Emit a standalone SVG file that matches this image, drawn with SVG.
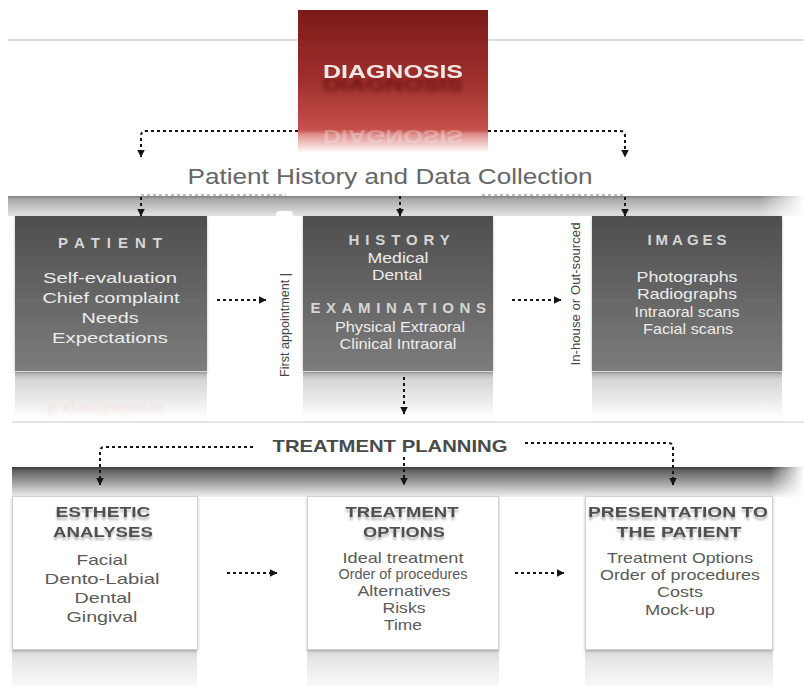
<svg xmlns="http://www.w3.org/2000/svg" width="804" height="686" viewBox="0 0 804 686">
  <style>
    text { font-family: "Liberation Sans", Arial, sans-serif; text-anchor: middle; }
    .diag { font-size: 18px; font-weight: bold; fill: #f3e6e6; }
    .sub { font-size: 22px; fill: #666; }
    .dh { font-size: 15px; font-weight: bold; fill: #d6d6d6; }
    .di { font-size: 15px; fill: #ececec; }
    .tp { font-size: 17px; font-weight: bold; fill: #4a4a4a; }
    .lh { font-size: 14px; font-weight: bold; fill: #505050; }
    .li { font-size: 15px; fill: #5a5a5a; }
    .vt { font-size: 13px; fill: #444; }
    .dot { fill: none; stroke: #151515; stroke-width: 2; stroke-dasharray: 3 3; }
    .dotl { fill: none; stroke: #a8a8a8; stroke-width: 1.5; stroke-dasharray: 3 3; }
    .dark { fill: url(#darkBox); }
    .light { fill: #fff; stroke: #d2d2d2; stroke-width: 1; }
  </style>
  <defs>
    <linearGradient id="red" x1="0" y1="0" x2="0" y2="1">
      <stop offset="0" stop-color="#7a1b19"/>
      <stop offset="0.5" stop-color="#a0302c"/>
      <stop offset="0.84" stop-color="#c7514c"/>
      <stop offset="0.87" stop-color="#df8f8b"/>
      <stop offset="1" stop-color="#ffffff"/>
    </linearGradient>
    <linearGradient id="darkBox" x1="0" y1="0" x2="0" y2="1">
      <stop offset="0" stop-color="#4e4e4e"/>
      <stop offset="1" stop-color="#7c7c7c"/>
    </linearGradient>
    <linearGradient id="reflDark" x1="0" y1="0" x2="0" y2="1">
      <stop offset="0" stop-color="#a9a9a9"/>
      <stop offset="0.15" stop-color="#d4d4d4"/>
      <stop offset="1" stop-color="#ffffff"/>
    </linearGradient>
    <linearGradient id="reflLight" x1="0" y1="0" x2="0" y2="1">
      <stop offset="0" stop-color="#d9d9d9"/>
      <stop offset="0.3" stop-color="#e8e8e8"/>
      <stop offset="1" stop-color="#f9f9f9"/>
    </linearGradient>
    <linearGradient id="band1" x1="0" y1="0" x2="0" y2="1">
      <stop offset="0" stop-color="#7e7e7e"/>
      <stop offset="0.15" stop-color="#a8a8a8"/>
      <stop offset="1" stop-color="#e4e4e4"/>
    </linearGradient>
    <linearGradient id="band2" x1="0" y1="0" x2="0" y2="1">
      <stop offset="0" stop-color="#3a3a3a"/>
      <stop offset="0.12" stop-color="#626262"/>
      <stop offset="0.55" stop-color="#a6a6a6"/>
      <stop offset="1" stop-color="#f2f2f2"/>
    </linearGradient>
    <linearGradient id="fadeR" x1="0" y1="0" x2="1" y2="0">
      <stop offset="0" stop-color="#fff" stop-opacity="0"/>
      <stop offset="1" stop-color="#fff" stop-opacity="1"/>
    </linearGradient>
    <filter id="soft2" x="-20%" y="-50%" width="140%" height="200%">
      <feGaussianBlur stdDeviation="1.6"/>
    </filter>
    <!-- blurred drop shadow under headings -->
    <filter id="tsh" x="-10%" y="-40%" width="120%" height="200%">
      <feGaussianBlur in="SourceAlpha" stdDeviation="1.2"/>
      <feOffset dy="3" result="b"/>
      <feFlood flood-color="#000" flood-opacity="0.3"/>
      <feComposite in2="b" operator="in"/>
      <feMerge><feMergeNode/><feMergeNode in="SourceGraphic"/></feMerge>
    </filter>
    <filter id="dsh" x="-10%" y="-40%" width="120%" height="260%">
      <feGaussianBlur in="SourceAlpha" stdDeviation="2.5"/>
      <feOffset dy="13" result="b"/>
      <feFlood flood-color="#4a0807" flood-opacity="0.6"/>
      <feComposite in2="b" operator="in"/>
      <feMerge><feMergeNode/><feMergeNode in="SourceGraphic"/></feMerge>
    </filter>
    <filter id="shadow" x="-10%" y="-10%" width="120%" height="130%">
      <feDropShadow dx="0" dy="1" stdDeviation="1.5" flood-color="#000" flood-opacity="0.25"/>
    </filter>
    <marker id="ah" viewBox="0 0 8 8" refX="7.5" refY="4" markerWidth="8" markerHeight="8" markerUnits="userSpaceOnUse" orient="auto">
      <path d="M0,0 L8,4 L0,8 z" fill="#151515"/>
    </marker>
  </defs>

  <rect width="804" height="686" fill="#fff"/>

  <!-- background rules and bands -->
  <line x1="8" y1="40" x2="804" y2="40" stroke="#d0d0d0" stroke-width="1.5"/>
  <rect x="8" y="196" width="796" height="20" fill="url(#band1)"/>
  <rect x="760" y="196" width="44" height="20" fill="url(#fadeR)"/>
  <rect x="276" y="211" width="17" height="8" rx="4" fill="#fff"/>
  <line x1="12" y1="422" x2="804" y2="422" stroke="#dedede" stroke-width="1.5"/>
  <rect x="12" y="467" width="792" height="30" fill="url(#band2)"/>
  <rect x="770" y="467" width="34" height="30" fill="url(#fadeR)"/>

  <!-- DIAGNOSIS -->
  <g id="diagnosis">
    <rect x="298" y="10" width="190" height="143" fill="url(#red)"/>
    <text x="393" y="78" class="diag" filter="url(#dsh)" textLength="140" lengthAdjust="spacingAndGlyphs">DIAGNOSIS</text>
    <text x="393" y="-130" class="diag" transform="scale(1,-1)" opacity="0.35" textLength="140" lengthAdjust="spacingAndGlyphs">DIAGNOSIS</text>
  </g>

  <g id="data-collection">
    <text x="390" y="184" class="sub" textLength="405" lengthAdjust="spacingAndGlyphs">Patient History and Data Collection</text>
  </g>

  <!-- PATIENT -->
  <g id="patient">
    <rect x="15" y="372" width="192" height="46" fill="url(#reflDark)"/>
    <text x="105" y="-404" class="di" transform="scale(1,-1)" style="fill:#e8b8b8" opacity="0.3" filter="url(#soft2)" textLength="116" lengthAdjust="spacingAndGlyphs">Expectations</text>
    <rect x="15" y="216" width="192" height="155" class="dark" filter="url(#shadow)"/>
    <text x="113.5" y="248" class="dh" letter-spacing="7">PATIENT</text>
    <text x="110" y="283" class="di" textLength="134" lengthAdjust="spacingAndGlyphs">Self-evaluation</text>
    <text x="111" y="303" class="di" textLength="137" lengthAdjust="spacingAndGlyphs">Chief complaint</text>
    <text x="110" y="323" class="di" textLength="57" lengthAdjust="spacingAndGlyphs">Needs</text>
    <text x="110" y="343" class="di" textLength="116" lengthAdjust="spacingAndGlyphs">Expectations</text>
  </g>

  <!-- HISTORY / EXAMINATIONS -->
  <g id="history">
    <rect x="303" y="372" width="190" height="46" fill="url(#reflDark)"/>
    <rect x="303" y="216" width="190" height="155" class="dark" filter="url(#shadow)"/>
    <text x="402" y="245" class="dh" letter-spacing="5.9">HISTORY</text>
    <text x="398" y="263" class="di" textLength="61" lengthAdjust="spacingAndGlyphs">Medical</text>
    <text x="397" y="280" class="di" textLength="50" lengthAdjust="spacingAndGlyphs">Dental</text>
    <text x="401" y="313" class="dh" letter-spacing="5.6">EXAMINATIONS</text>
    <text x="400" y="332" class="di" textLength="130" lengthAdjust="spacingAndGlyphs">Physical Extraoral</text>
    <text x="398" y="349" class="di" textLength="117" lengthAdjust="spacingAndGlyphs">Clinical Intraoral</text>
  </g>

  <!-- IMAGES -->
  <g id="images">
    <rect x="592" y="372" width="190" height="46" fill="url(#reflDark)"/>
    <rect x="592" y="216" width="190" height="155" class="dark" filter="url(#shadow)"/>
    <text x="689" y="245" class="dh" letter-spacing="4">IMAGES</text>
    <text x="687" y="282" class="di" textLength="101" lengthAdjust="spacingAndGlyphs">Photographs</text>
    <text x="687" y="299" class="di" textLength="100" lengthAdjust="spacingAndGlyphs">Radiographs</text>
    <text x="687" y="317" class="di" textLength="105" lengthAdjust="spacingAndGlyphs">Intraoral scans</text>
    <text x="688" y="334" class="di" textLength="90" lengthAdjust="spacingAndGlyphs">Facial scans</text>
  </g>

  <!-- side labels -->
  <g id="first-appointment">
    <text class="vt" transform="translate(289,325) rotate(-90)" textLength="104" lengthAdjust="spacingAndGlyphs">First appointment |</text>
  </g>
  <g id="in-house">
    <text class="vt" transform="translate(580,294) rotate(-90)" textLength="143" lengthAdjust="spacingAndGlyphs">In-house or Out-sourced</text>
  </g>

  <g id="treatment-planning">
    <text x="390" y="452" class="tp" textLength="235" lengthAdjust="spacingAndGlyphs">TREATMENT PLANNING</text>
  </g>

  <!-- ESTHETIC ANALYSES -->
  <g id="esthetic">
    <rect x="12" y="650" width="185" height="36" fill="url(#reflLight)"/>
    <rect x="12.5" y="496.5" width="185" height="153" class="light" filter="url(#shadow)"/>
    <text x="103" y="517" class="lh" filter="url(#tsh)" textLength="95" lengthAdjust="spacingAndGlyphs">ESTHETIC</text>
    <text x="103" y="537" class="lh" filter="url(#tsh)" textLength="100" lengthAdjust="spacingAndGlyphs">ANALYSES</text>
    <text x="102" y="565" class="li" textLength="51" lengthAdjust="spacingAndGlyphs">Facial</text>
    <text x="102" y="584" class="li" textLength="115" lengthAdjust="spacingAndGlyphs">Dento-Labial</text>
    <text x="103" y="603" class="li" textLength="57" lengthAdjust="spacingAndGlyphs">Dental</text>
    <text x="102" y="622" class="li" textLength="71" lengthAdjust="spacingAndGlyphs">Gingival</text>
  </g>

  <!-- TREATMENT OPTIONS -->
  <g id="treatment-options">
    <rect x="307" y="650" width="192" height="36" fill="url(#reflLight)"/>
    <rect x="307.5" y="496.5" width="191" height="153" class="light" filter="url(#shadow)"/>
    <text x="402" y="517" class="lh" filter="url(#tsh)" textLength="113" lengthAdjust="spacingAndGlyphs">TREATMENT</text>
    <text x="404" y="537" class="lh" filter="url(#tsh)" textLength="82" lengthAdjust="spacingAndGlyphs">OPTIONS</text>
    <text x="403" y="563" class="li" textLength="121" lengthAdjust="spacingAndGlyphs">Ideal treatment</text>
    <text x="403" y="579" class="li" textLength="129" lengthAdjust="spacingAndGlyphs">Order of procedures</text>
    <text x="404" y="596" class="li" textLength="93" lengthAdjust="spacingAndGlyphs">Alternatives</text>
    <text x="404" y="613" class="li" textLength="43" lengthAdjust="spacingAndGlyphs">Risks</text>
    <text x="403" y="630" class="li" textLength="38" lengthAdjust="spacingAndGlyphs">Time</text>
  </g>

  <!-- PRESENTATION TO THE PATIENT -->
  <g id="presentation">
    <rect x="585" y="650" width="188" height="36" fill="url(#reflLight)"/>
    <rect x="585.5" y="496.5" width="187" height="153" class="light" filter="url(#shadow)"/>
    <text x="678" y="517" class="lh" filter="url(#tsh)" textLength="180" lengthAdjust="spacingAndGlyphs">PRESENTATION TO</text>
    <text x="679" y="537" class="lh" filter="url(#tsh)" textLength="125" lengthAdjust="spacingAndGlyphs">THE PATIENT</text>
    <text x="680" y="563" class="li" textLength="146" lengthAdjust="spacingAndGlyphs">Treatment Options</text>
    <text x="680" y="580" class="li" textLength="160" lengthAdjust="spacingAndGlyphs">Order of procedures</text>
    <text x="680" y="597" class="li" textLength="46" lengthAdjust="spacingAndGlyphs">Costs</text>
    <text x="680" y="615" class="li" textLength="70" lengthAdjust="spacingAndGlyphs">Mock-up</text>
  </g>

  <!-- connectors -->
  <g id="connectors">
    <path class="dot" d="M298,131 H146 Q141,131 141,136 V157" marker-end="url(#ah)"/>
    <path class="dot" d="M488,131 H620 Q625,131 625,136 V157" marker-end="url(#ah)"/>
    <path class="dotl" d="M141,195 H286"/>
    <path class="dotl" d="M482,195 H625"/>
    <path class="dot" d="M141,197 V216" marker-end="url(#ah)"/>
    <path class="dot" d="M625,197 V216" marker-end="url(#ah)"/>
    <path class="dot" d="M400,196 V216" marker-end="url(#ah)"/>
    <path class="dot" d="M217,300 H266" marker-end="url(#ah)"/>
    <path class="dot" d="M512,300 H561" marker-end="url(#ah)"/>
    <path class="dot" d="M404,377 V414" marker-end="url(#ah)"/>
    <path class="dot" d="M253,447 H105 Q100,447 100,452 V485" marker-end="url(#ah)"/>
    <path class="dot" d="M404,457 V485" marker-end="url(#ah)"/>
    <path class="dot" d="M525,443 H668 Q673,443 673,448 V485" marker-end="url(#ah)"/>
    <path class="dot" d="M227,573 H277" marker-end="url(#ah)"/>
    <path class="dot" d="M515,573 H564" marker-end="url(#ah)"/>
  </g>
</svg>
